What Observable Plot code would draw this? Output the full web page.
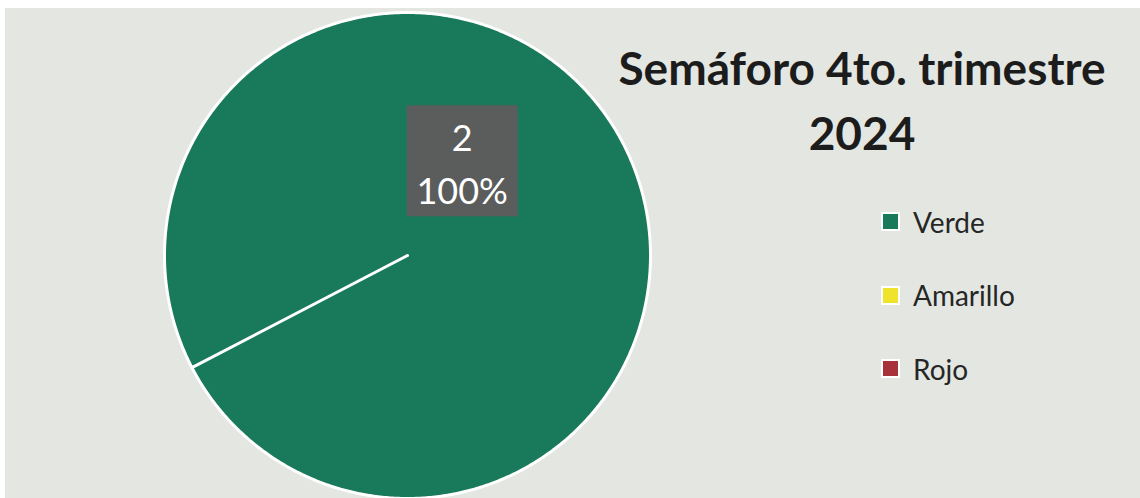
<!DOCTYPE html>
<html>
<head>
<meta charset="utf-8">
<script src="https://cdn.jsdelivr.net/npm/d3@7"></script>
<script src="https://cdn.jsdelivr.net/npm/@observablehq/plot@0.6"></script>
<style>
  html, body { margin: 0; padding: 0; background: #ffffff; }
  #wrap { position: relative; width: 1140px; height: 498px; overflow: hidden; background: #ffffff; }
  #bg { position: absolute; left: 5px; top: 8px; right: 0; bottom: 0; background: #e4e6e1; }
  #chart { position: absolute; left: 0; top: 0; }
  #chart svg { background: transparent; }
  #title { position: absolute; left: 590px; width: 544px; top: 34.5px; text-align: center;
           font-family: Lato, "Open Sans", sans-serif; font-weight: 700; font-size: 46px;
           line-height: 65px; color: #1c1c1c; white-space: nowrap; }
  #legend { position: absolute; left: 883px; top: 185px; font-family: Lato, "Open Sans", sans-serif;
            font-size: 28px; color: #262626; }
  .item { display: flex; align-items: center; height: 73.5px; }
  .sw { width: 15px; height: 15px; border: 2px solid #ffffff; margin-left: -2px; margin-right: 13px; box-sizing: content-box; }
</style>
</head>
<body>
<div id="wrap">
  <div id="bg"></div>
  <div id="chart"></div>
  <div id="title"></div>
  <div id="legend"></div>
</div>
<script>
// ---- data ----
const categories = ["Verde", "Amarillo", "Rojo"];
const counts = [2, 0, 0];
const colors = ["#18795b", "#efe32b", "#a8323a"];
const titleLines = ["Semáforo 4to. trimestre", "2024"];

// ---- layout constants ----
const W = 1140, H = 498;
const cx = 407, cy = 255, R = 243;
const startDeg = 242.5;          // rotation of the first slice (clockwise from 12 o'clock)
const labelAngleDeg = 30;        // data label placement
const labelRadius = 0.45;

// ---- pie geometry in unit-circle data space ----
const rows = categories.map((c, i) => ({category: c, value: counts[i]}));
const total = d3.sum(counts);
const a0 = startDeg * Math.PI / 180;
const arcs = d3.pie().sort(null).value(d => d.value).startAngle(a0).endAngle(a0 + 2 * Math.PI)(rows);

const slicePts = [];
for (const a of arcs) {
  if (a.endAngle - a.startAngle <= 0) continue;
  const n = Math.max(2, Math.ceil((a.endAngle - a.startAngle) / (Math.PI / 360)));
  slicePts.push({category: a.data.category, x: 0, y: 0});
  for (let k = 0; k <= n; k++) {
    const t = a.startAngle + (a.endAngle - a.startAngle) * k / n;
    slicePts.push({category: a.data.category, x: Math.sin(t), y: Math.cos(t)});
  }
}

const la = labelAngleDeg * Math.PI / 180;
const labels = arcs.filter(a => a.data.value > 0).map(a => ({
  x: Math.sin(la) * labelRadius,
  y: Math.cos(la) * labelRadius,
  text: `${a.data.value}\n${d3.format(".0%")(a.data.value / total)}`
}));

const chart = Plot.plot({
  width: W, height: H,
  margin: 0,
  style: {background: "transparent", overflow: "visible"},
  x: {domain: [-1, 1], range: [cx - R, cx + R], axis: null},
  y: {domain: [-1, 1], range: [cy + R, cy - R], axis: null},
  color: {domain: categories, range: colors},
  marks: [
    Plot.line(slicePts, {x: "x", y: "y", z: "category", fill: "category", stroke: "#ffffff",
                          strokeWidth: 3, curve: "linear-closed", strokeLinejoin: "round"}),
    Plot.dot(labels, {x: "x", y: "y", symbol: "square", r: 62.6, fill: "#5b5c5c", stroke: "none"}),
    Plot.text(labels, {x: "x", y: "y", text: "text", fill: "#ffffff", fontSize: 36, lineHeight: 1.47,
                        fontFamily: "Lato, 'Open Sans', sans-serif", lineAnchor: "middle"})
  ]
});
document.getElementById("chart").appendChild(chart);

// ---- title ----
const title = document.getElementById("title");
titleLines.forEach(t => { const d = document.createElement("div"); d.textContent = t; title.appendChild(d); });

// ---- legend ----
const legend = document.getElementById("legend");
categories.forEach((c, i) => {
  const item = document.createElement("div"); item.className = "item";
  const sw = document.createElement("span"); sw.className = "sw"; sw.style.background = colors[i];
  const lab = document.createElement("span"); lab.textContent = c;
  item.appendChild(sw); item.appendChild(lab); legend.appendChild(item);
});
</script>
</body>
</html>
